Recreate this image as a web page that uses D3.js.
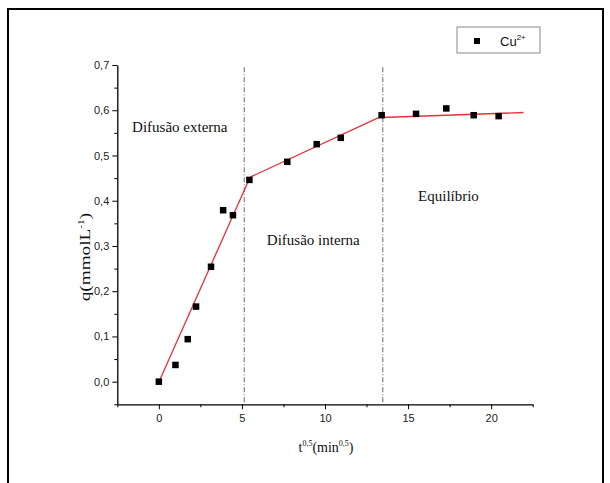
<!DOCTYPE html>
<html><head><meta charset="utf-8">
<script src="https://cdn.jsdelivr.net/npm/d3@7"></script>
<style>body{margin:0;background:#fff}svg{display:block}</style>
</head><body>
<svg id="c" width="610" height="483"></svg>
<script>
// Data
const tSqrt = [0, 1.0, 1.74, 2.24, 3.14, 3.87, 4.46, 5.45, 7.73, 9.5, 10.95, 13.41, 15.48, 17.30, 18.95, 20.45];
const qVals = [0.0, 0.037, 0.094, 0.166, 0.254, 0.379, 0.368, 0.446, 0.486, 0.525, 0.539, 0.589, 0.592, 0.604, 0.589, 0.587];
const fitX1 = [0.07, 5.49], fitY1 = [0.005, 0.452];
const fitX2 = [5.49, 13.42], fitY2 = [0.452, 0.587];
const fitX3 = [13.42, 21.95], fitY3 = [0.584, 0.595];
const boundaries = [5.14, 13.48];
const xMajor = [0, 5, 10, 15, 20];
const xMinor = [-2.5, 2.5, 7.5, 12.5, 17.5, 22.5];
const yMajor = [0, 0.1, 0.2, 0.3, 0.4, 0.5, 0.6, 0.7];
const yMinor = [-0.05, 0.05, 0.15, 0.25, 0.35, 0.45, 0.55, 0.65];
const regionLabels = ["Difusão externa", "Difusão interna", "Equilíbrio"];
const regionX = [-1.61, 6.5, 15.6];
const regionY = [0.552, 0.302, 0.40];

const svg = d3.select("#c");
const x = d3.scaleLinear().domain([-2.5, 22.5]).range([117.3, 532.7]);
const y = d3.scaleLinear().domain([-0.05, 0.7]).range([404.3, 65]);

// outer frame
svg.append("rect").attr("x", 8).attr("y", 9).attr("width", 595).attr("height", 500)
  .attr("fill", "none").attr("stroke", "#000").attr("stroke-width", 2);

const sans = "'Liberation Sans', Arial, sans-serif";
const serif = "'Liberation Serif', 'Times New Roman', serif";

// axes
svg.append("g").attr("transform", `translate(0,${y(-0.05)})`)
  .call(d3.axisBottom(x).tickValues(xMajor).tickSize(5).tickSizeOuter(0).tickPadding(5).tickFormat(d3.format("d")));
svg.append("g").attr("transform", `translate(0,${y(-0.05)})`)
  .call(d3.axisBottom(x).tickValues(xMinor).tickSize(3).tickSizeOuter(0).tickFormat(""))
  .select(".domain").remove();
svg.append("g").attr("transform", `translate(${x(-2.5)},0)`)
  .call(d3.axisLeft(y).tickValues(yMajor).tickSize(5).tickSizeOuter(0).tickPadding(3)
    .tickFormat(d => d3.format(".1f")(d).replace(".", ",")));
svg.append("g").attr("transform", `translate(${x(-2.5)},0)`)
  .call(d3.axisLeft(y).tickValues(yMinor).tickSize(3).tickSizeOuter(0).tickFormat(""))
  .select(".domain").remove();
svg.selectAll(".domain").attr("stroke", "#000").attr("stroke-width", 1.3);
svg.selectAll(".tick line").attr("stroke", "#000").attr("stroke-width", 1);
svg.selectAll(".tick text").attr("font-family", sans).attr("font-size", 11).attr("fill", "#222");

// boundaries
svg.selectAll(".bnd").data(boundaries).enter().append("line")
  .attr("x1", d => x(d)).attr("x2", d => x(d))
  .attr("y1", y(0.695)).attr("y2", y(-0.05))
  .attr("stroke", "#555").attr("stroke-width", 0.9).attr("stroke-dasharray", "5,2,1,2");

// fit lines
const line = d3.line().x(d => x(d[0])).y(d => y(d[1]));
[[fitX1, fitY1], [fitX2, fitY2], [fitX3, fitY3]].forEach(([fx, fy]) => {
  svg.append("path").datum(d3.zip(fx, fy)).attr("d", line)
    .attr("fill", "none").attr("stroke", "#e8303a").attr("stroke-width", 1.3);
});

// points
const s = 6.5;
svg.selectAll(".pt").data(d3.zip(tSqrt, qVals)).enter().append("rect")
  .attr("x", d => x(d[0]) - s / 2).attr("y", d => y(d[1]) - s / 2)
  .attr("width", s).attr("height", s).attr("fill", "#000");

// region labels
svg.selectAll(".rl").data(regionLabels).enter().append("text")
  .attr("x", (d, i) => x(regionX[i])).attr("y", (d, i) => y(regionY[i]))
  .attr("font-family", serif).attr("font-size", 15).attr("fill", "#111").text(d => d);

// axis labels
const xl = svg.append("text").attr("x", 326).attr("y", 452).attr("text-anchor", "middle")
  .attr("font-family", serif).attr("font-size", 14).attr("fill", "#111");
xl.append("tspan").text("t");
xl.append("tspan").attr("dy", -6).attr("font-size", 8).text("0,5");
xl.append("tspan").attr("dy", 6).text("(min");
xl.append("tspan").attr("dy", -6).attr("font-size", 8).text("0,5");
xl.append("tspan").attr("dy", 6).text(")");

const yl = svg.append("text").attr("transform", "translate(90,257) rotate(-90) scale(1.28,1)").attr("text-anchor", "middle")
  .attr("font-family", serif).attr("font-size", 15).attr("fill", "#111");
yl.append("tspan").text("q(mmolL");
yl.append("tspan").attr("dy", -6).attr("font-size", 9).text("-1");
yl.append("tspan").attr("dy", 6).text(")");

// legend
const lg = svg.append("g");
lg.append("rect").attr("x", 457).attr("y", 27).attr("width", 83).attr("height", 26)
  .attr("fill", "#fff").attr("stroke", "#888").attr("stroke-width", 1);
lg.append("rect").attr("x", 477 - 3).attr("y", 41 - 3).attr("width", 6).attr("height", 6).attr("fill", "#000");
const lt = lg.append("text").attr("x", 500).attr("y", 46).attr("font-family", sans).attr("font-size", 13).attr("fill", "#111");
lt.append("tspan").text("Cu");
lt.append("tspan").attr("dy", -6).attr("font-size", 8).text("2+");
</script>
</body></html>
